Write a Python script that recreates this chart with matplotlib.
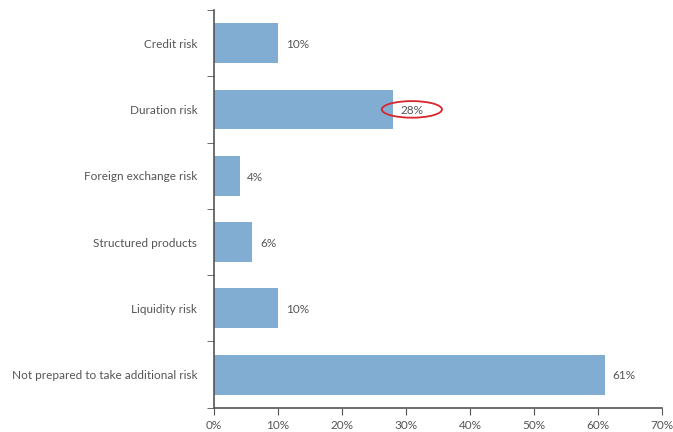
import matplotlib.pyplot as plt
from matplotlib.patches import Ellipse
import numpy as np

categories = ['Credit risk', 'Duration risk', 'Foreign exchange risk',
              'Structured products', 'Liquidity risk',
              'Not prepared to take additional risk']
values = [10, 28, 4, 6, 10, 61]
xticks = [0, 10, 20, 30, 40, 50, 60, 70]

plt.rcParams['font.family'] = ['Lato', 'DejaVu Sans']
grey = '#555555'

fig = plt.figure(figsize=(6.73, 4.32), dpi=100)
ax = fig.add_axes([0.318, 0.056, 0.666, 0.921])

y = np.arange(len(categories))
ax.barh(y, values, height=0.6, color='#82add3')
ax.set_ylim(len(categories) - 0.5, -0.5)
ax.set_xlim(0, 70)

for yi, v in zip(y, values):
    ax.text(v + 1.2, yi + 0.02, f'{v}%', va='center', ha='left', fontsize=8.5, color=grey)

# highlight around the duration risk label
dur = categories.index('Duration risk')
ax.add_patch(Ellipse((values[dur] + 2.9, dur), 9.4, 0.25, fill=False,
                     edgecolor='#d7262c', lw=1.3, clip_on=False))

ax.set_yticks(y)
ax.set_yticklabels(categories, fontsize=8.5, color=grey)
ax.tick_params(axis='y', which='major', length=0, pad=12)
ax.set_yticks(np.arange(-0.5, len(categories)), minor=True)
ax.tick_params(axis='y', which='minor', length=5, color=grey, direction='out')

ax.set_xticks(xticks)
ax.set_xticklabels([f'{t}%' for t in xticks], fontsize=8.5, color=grey)
ax.tick_params(axis='x', length=5, color=grey, pad=4)

for s in ['top', 'right']:
    ax.spines[s].set_visible(False)
for s in ['left', 'bottom']:
    ax.spines[s].set_color(grey)
    ax.spines[s].set_linewidth(1.2)

fig.savefig('out.png', dpi=100)
